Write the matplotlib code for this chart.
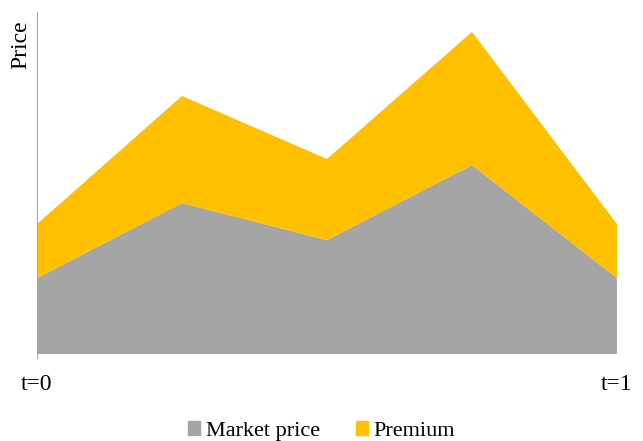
import matplotlib.pyplot as plt
from matplotlib.patches import Patch

plt.rcParams['font.family'] = ['Liberation Serif', 'DejaVu Serif']

# data (arbitrary price units)
x_pos = [0, 1, 2, 3, 4]
market_price = [7.6, 15.1, 11.4, 18.9, 7.6]
premium = [5.4, 10.7, 8.1, 13.3, 5.4]
x_labels = ['t=0', 't=1']
series_names = ['Market price', 'Premium']
colors = ['#A5A5A5', '#FFC000']

fig = plt.figure(figsize=(6.43, 4.41), dpi=100)
ax = fig.add_axes([0.0575, 0.197, 0.902, 0.776])

ax.stackplot(x_pos, market_price, premium, colors=colors, linewidth=0)

ax.set_xlim(x_pos[0], x_pos[-1])
ax.set_ylim(0, 34.2)

for side in ['top', 'right', 'bottom']:
    ax.spines[side].set_visible(False)
ax.spines['left'].set_color('#A6A6A6')
ax.spines['left'].set_linewidth(0.8)
ax.spines['left'].set_bounds(-0.4, 34.2)

ax.set_yticks([])
ax.set_xticks([x_pos[0], x_pos[-1]])
ax.set_xticklabels(x_labels, fontsize=17)
ax.tick_params(axis='x', length=0, pad=14)

ax.set_ylabel('Price', fontsize=17)
ax.yaxis.set_label_coords(-0.009, 0.905)

handles = [Patch(color=c) for c in colors]
fig.legend(handles, series_names, loc='lower center', bbox_to_anchor=(0.5, -0.045),
           ncol=2, frameon=False, fontsize=16, handlelength=0.55, handleheight=0.55,
           handletextpad=0.25, columnspacing=1.6)

plt.savefig('out.png', dpi=100)
